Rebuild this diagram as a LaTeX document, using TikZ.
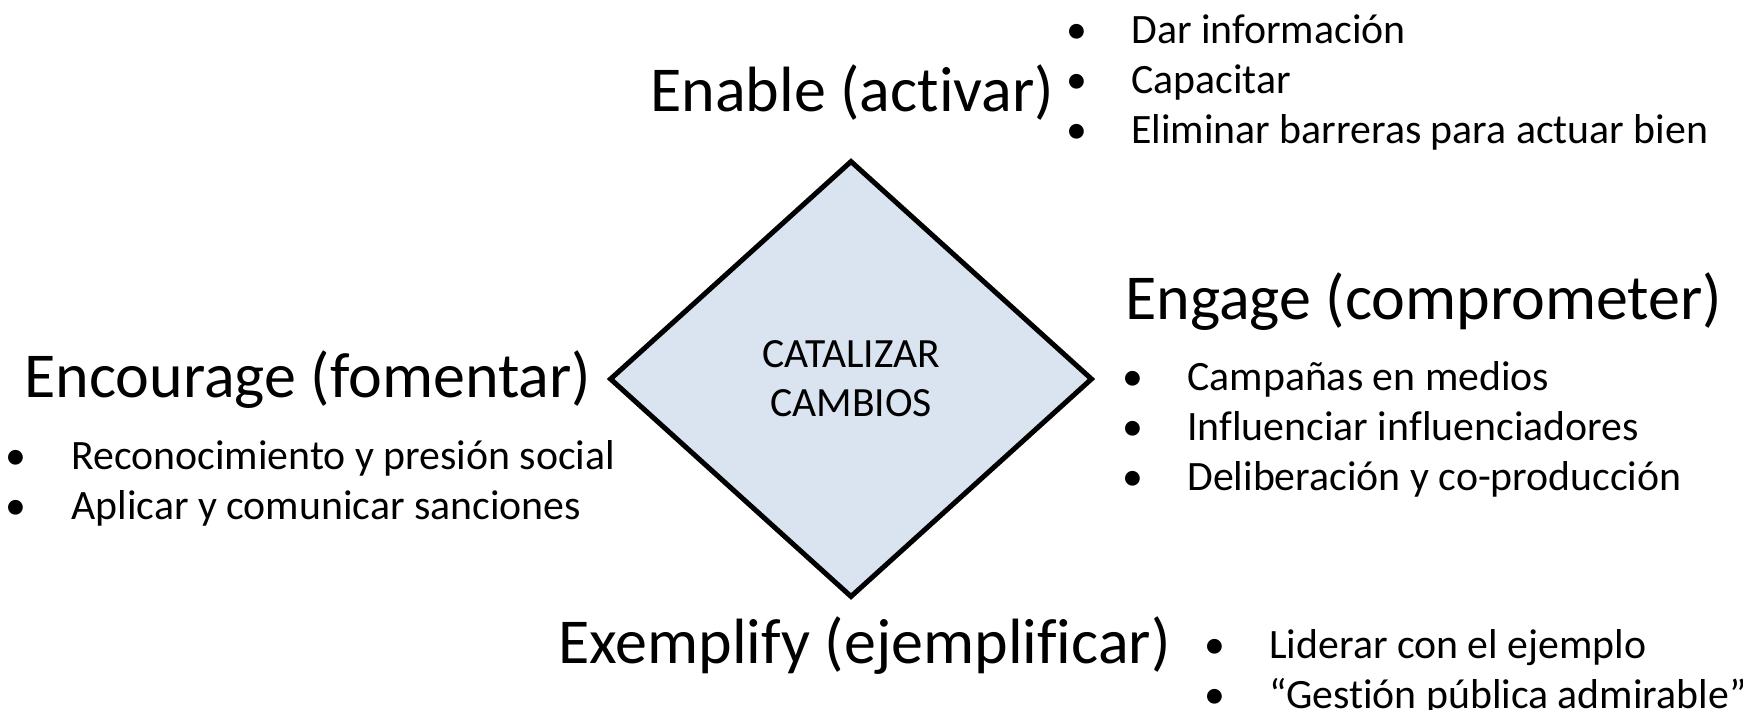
\documentclass[tikz,border=0pt]{standalone}
\usepackage{fontspec}
\setmainfont[Ligatures=NoCommon]{Carlito}
\usetikzlibrary{shapes.geometric}

\definecolor{diamondfill}{RGB}{218,227,240}
\newcommand{\bul}{\makebox[0pt]{\textbullet}\hspace{27.5pt}}

\tikzset{
  head/.style={font=\fontsize{32}{40}\selectfont, inner sep=0pt, anchor=base west},
  item/.style={font=\fontsize{20.9}{25}\selectfont, inner sep=0pt, anchor=base west},
}

\begin{document}
\begin{tikzpicture}[x=0.5pt,y=0.5pt]
  \useasboundingbox (0,0) rectangle (1743,709);

  % centre
  \node[draw, fill=diamondfill, shape=diamond, line width=2.5pt, inner sep=0pt,
        minimum width=241.5pt, minimum height=218.5pt, align=center,
        font=\fontsize{20.8}{24.5}\selectfont] (cat) at (851,330) {CATALIZAR\\CAMBIOS};

  % top
  \node[head] (enable) at (650,598) {Enable (activar)};
  \node[item] (enable1) at (1076,666) {\bul Dar información};
  \node[item] (enable2) at (1076,616) {\bul Capacitar};
  \node[item] (enable3) at (1076,566) {\bul Eliminar barreras para actuar bien};

  % right
  \node[head] (engage) at (1125,390) {Engage (comprometer)};
  \node[item] (engage1) at (1132,319) {\bul Campañas en medios};
  \node[item] (engage2) at (1132,269) {\bul Influenciar influenciadores};
  \node[item] (engage3) at (1132,219) {\bul Deliberación y co-producción};

  % left
  \node[head] (encourage) at (24,312) {Encourage (fomentar)};
  \node[item] (encourage1) at (16,240) {\bul Reconocimiento y presión social};
  \node[item] (encourage2) at (16,190) {\bul Aplicar y comunicar sanciones};

  % bottom
  \node[head] (exemplify) at (558,46) {Exemplify (ejemplificar)};
  \node[item] (exemplify1) at (1214,51) {\bul Liderar con el ejemplo};
  \node[item] (exemplify2) at (1214,1) {\bul “Gestión pública admirable”};
\end{tikzpicture}
\end{document}
